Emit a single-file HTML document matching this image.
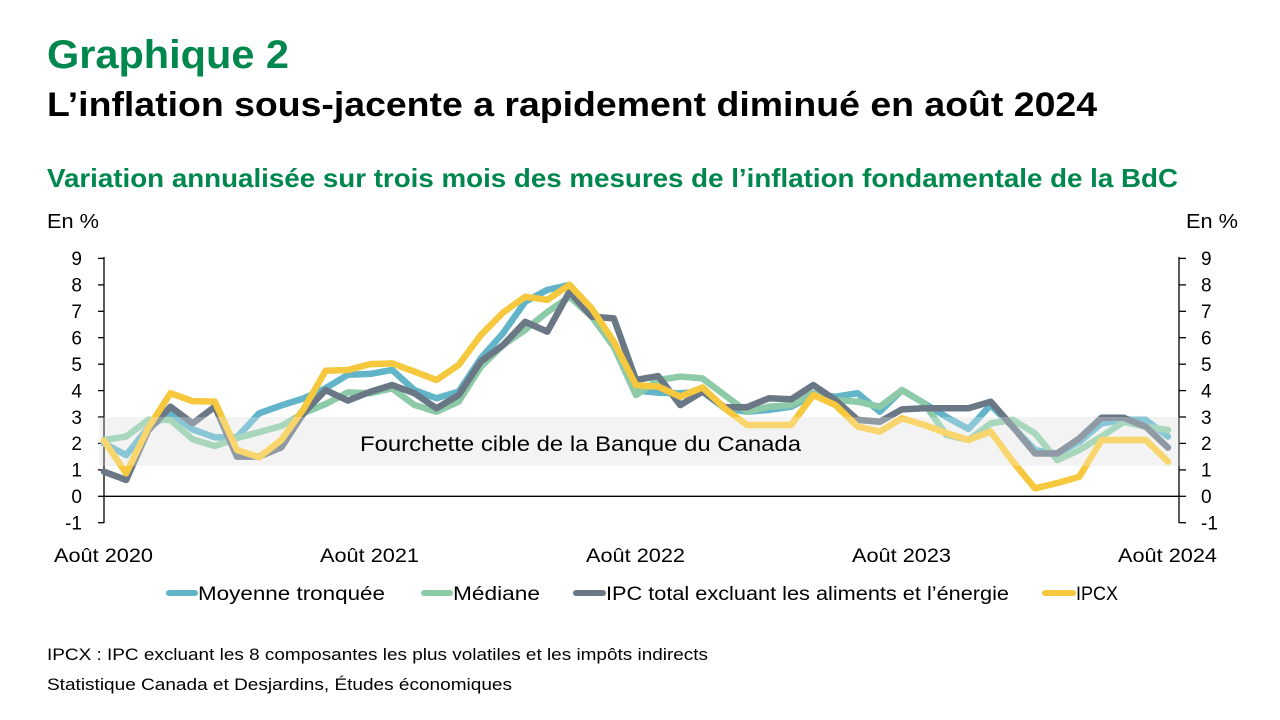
<!DOCTYPE html>
<html><head><meta charset="utf-8">
<style>
html,body{margin:0;padding:0;background:#fff;}
svg{display:block;}
text{font-family:"Liberation Sans",Arial,sans-serif;}
</style></head>
<body>
<svg width="1280" height="720" viewBox="0 0 1280 720" xmlns="http://www.w3.org/2000/svg">
<rect width="1280" height="720" fill="#fff"/>
<!-- titles -->
<text x="47" y="68" font-size="40" font-weight="bold" fill="#00874E" textLength="242" lengthAdjust="spacingAndGlyphs">Graphique 2</text>
<text x="47" y="116" font-size="34" font-weight="bold" fill="#000" textLength="1050" lengthAdjust="spacingAndGlyphs">L’inflation sous-jacente a rapidement diminué en août 2024</text>
<text x="47" y="187" font-size="26" font-weight="bold" fill="#00874E" textLength="1131" lengthAdjust="spacingAndGlyphs">Variation annualisée sur trois mois des mesures de l’inflation fondamentale de la BdC</text>
<text x="47" y="228" font-size="20" fill="#000" textLength="52" lengthAdjust="spacingAndGlyphs">En %</text>
<text x="1186" y="228" font-size="20" fill="#000" textLength="52" lengthAdjust="spacingAndGlyphs">En %</text>

<!-- band underlay -->
<rect x="99" y="417" width="1081" height="49" fill="#efefef"/>

<!-- axes -->
<g stroke="#000" stroke-width="1.3" fill="none">
<line x1="104" y1="257" x2="104" y2="523"/>
<line x1="1179" y1="257" x2="1179" y2="523"/>
<line x1="104" y1="496.3" x2="1179" y2="496.3"/>
<line x1="98" y1="258.4" x2="104" y2="258.4"/>
<line x1="98" y1="284.9" x2="104" y2="284.9"/>
<line x1="98" y1="311.3" x2="104" y2="311.3"/>
<line x1="98" y1="337.7" x2="104" y2="337.7"/>
<line x1="98" y1="364.2" x2="104" y2="364.2"/>
<line x1="98" y1="390.6" x2="104" y2="390.6"/>
<line x1="98" y1="417" x2="104" y2="417"/>
<line x1="98" y1="443.4" x2="104" y2="443.4"/>
<line x1="98" y1="469.9" x2="104" y2="469.9"/>
<line x1="98" y1="496.3" x2="104" y2="496.3"/>
<line x1="98" y1="522.7" x2="104" y2="522.7"/>
<line x1="1179" y1="258.4" x2="1186" y2="258.4"/>
<line x1="1179" y1="284.9" x2="1186" y2="284.9"/>
<line x1="1179" y1="311.3" x2="1186" y2="311.3"/>
<line x1="1179" y1="337.7" x2="1186" y2="337.7"/>
<line x1="1179" y1="364.2" x2="1186" y2="364.2"/>
<line x1="1179" y1="390.6" x2="1186" y2="390.6"/>
<line x1="1179" y1="417" x2="1186" y2="417"/>
<line x1="1179" y1="443.4" x2="1186" y2="443.4"/>
<line x1="1179" y1="469.9" x2="1186" y2="469.9"/>
<line x1="1179" y1="496.3" x2="1186" y2="496.3"/>
<line x1="1179" y1="522.7" x2="1186" y2="522.7"/>
</g>

<!-- tick labels -->
<g font-size="19" fill="#000" text-anchor="end">
<text x="82" y="265">9</text>
<text x="82" y="291.5">8</text>
<text x="82" y="318">7</text>
<text x="82" y="344.5">6</text>
<text x="82" y="371">5</text>
<text x="82" y="397.5">4</text>
<text x="82" y="424">3</text>
<text x="82" y="450">2</text>
<text x="82" y="476.5">1</text>
<text x="82" y="503">0</text>
<text x="82" y="529.5">-1</text>
</g>
<g font-size="19" fill="#000">
<text x="1201" y="265">9</text>
<text x="1201" y="291.5">8</text>
<text x="1201" y="318">7</text>
<text x="1201" y="344.5">6</text>
<text x="1201" y="371">5</text>
<text x="1201" y="397.5">4</text>
<text x="1201" y="424">3</text>
<text x="1201" y="450">2</text>
<text x="1201" y="476.5">1</text>
<text x="1201" y="503">0</text>
<text x="1201" y="529.5">-1</text>
</g>
<g font-size="19" fill="#000">
<text x="54" y="562" textLength="99" lengthAdjust="spacingAndGlyphs">Août 2020</text>
<text x="320" y="562" textLength="99" lengthAdjust="spacingAndGlyphs">Août 2021</text>
<text x="586" y="562" textLength="99" lengthAdjust="spacingAndGlyphs">Août 2022</text>
<text x="852" y="562" textLength="99" lengthAdjust="spacingAndGlyphs">Août 2023</text>
<text x="1118" y="562" textLength="99" lengthAdjust="spacingAndGlyphs">Août 2024</text>
</g>

<!-- series -->
<g transform="translate(104,496.3) scale(22.1667,-26.43)" fill="none" stroke-linejoin="round" stroke-linecap="round">
<polyline vector-effect="non-scaling-stroke" stroke="#62B4C8" stroke-width="6.5" points="0,2.0 1,1.56 2,2.6 3,3.14 4,2.53 5,2.23 6,2.23 7,3.14 8,3.44 9,3.7 10,4.09 11,4.6 12,4.63 13,4.78 14,4.02 15,3.71 16,3.96 17,5.22 18,6.17 19,7.36 20,7.81 21,8.0 22,7.05 23,5.66 24,4.0 25,3.92 26,3.9 27,3.96 28,3.33 29,3.2 30,3.27 31,3.39 32,3.83 33,3.77 34,3.9 35,3.2 36,4.02 37,3.52 38,3.0 39,2.55 40,3.45 41,2.63 42,1.75 43,1.62 44,2.06 45,2.76 46,2.89 47,2.89 48,2.26"/>
<polyline vector-effect="non-scaling-stroke" stroke="#8DCAA7" stroke-width="6.5" points="0,2.13 1,2.26 2,2.89 3,2.89 4,2.16 5,1.9 6,2.2 7,2.43 8,2.66 9,3.14 10,3.49 11,3.93 12,3.9 13,4.08 14,3.46 15,3.2 16,3.58 17,4.9 18,5.72 19,6.3 20,6.97 21,7.55 22,6.8 23,5.66 24,3.83 25,4.4 26,4.53 27,4.46 28,3.83 29,3.2 30,3.39 31,3.45 32,3.9 33,3.64 34,3.58 35,3.39 36,4.02 37,3.52 38,2.32 39,2.13 40,2.76 41,2.89 42,2.38 43,1.37 44,1.75 45,2.26 46,2.82 47,2.63 48,2.51"/>
<polyline vector-effect="non-scaling-stroke" stroke="#6A7886" stroke-width="6.5" points="0,0.93 1,0.62 2,2.5 3,3.39 4,2.76 5,3.39 6,1.5 7,1.5 8,1.85 9,3.14 10,4.02 11,3.62 12,3.95 13,4.21 14,3.9 15,3.33 16,3.83 17,5.1 18,5.72 19,6.6 20,6.23 21,7.74 22,6.8 23,6.73 24,4.4 25,4.55 26,3.45 27,3.96 28,3.37 29,3.37 30,3.71 31,3.67 32,4.21 33,3.64 34,2.89 35,2.82 36,3.29 37,3.33 38,3.33 39,3.33 40,3.58 41,2.63 42,1.62 43,1.62 44,2.19 45,2.97 46,2.97 47,2.63 48,1.84"/>
<polyline vector-effect="non-scaling-stroke" stroke="#F6C83D" stroke-width="6.5" points="0,2.1 1,0.87 2,2.6 3,3.9 4,3.6 5,3.58 6,1.75 7,1.48 8,2.13 9,3.3 10,4.75 11,4.78 12,5.0 13,5.03 14,4.72 15,4.4 16,4.97 17,6.1 18,6.95 19,7.55 20,7.43 21,8.0 22,7.11 23,5.85 24,4.2 25,4.15 26,3.77 27,4.12 28,3.33 29,2.7 30,2.7 31,2.7 32,3.83 33,3.45 34,2.64 35,2.45 36,2.95 37,2.7 38,2.39 39,2.13 40,2.45 41,1.31 42,0.3 43,0.5 44,0.74 45,2.13 46,2.13 47,2.13 48,1.31"/>
</g>

<!-- band overlay (washes lines inside) -->
<rect x="99" y="417" width="1081" height="49" fill="#ffffff" fill-opacity="0.25"/>
<text x="360" y="451" font-size="21" fill="#000" textLength="441" lengthAdjust="spacingAndGlyphs">Fourchette cible de la Banque du Canada</text>

<!-- legend -->
<g stroke-width="6" stroke-linecap="round">
<line x1="169" y1="593" x2="195" y2="593" stroke="#62B4C8"/>
<line x1="424" y1="593" x2="450" y2="593" stroke="#8DCAA7"/>
<line x1="576" y1="593" x2="603" y2="593" stroke="#6A7886"/>
<line x1="1045" y1="593" x2="1073" y2="593" stroke="#F6C83D"/>
</g>
<g font-size="19" fill="#000">
<text x="198" y="600" textLength="187" lengthAdjust="spacingAndGlyphs">Moyenne tronquée</text>
<text x="453" y="600" textLength="87" lengthAdjust="spacingAndGlyphs">Médiane</text>
<text x="606" y="600" textLength="403" lengthAdjust="spacingAndGlyphs">IPC total excluant les aliments et l’énergie</text>
<text x="1076" y="600" textLength="42" lengthAdjust="spacingAndGlyphs">IPCX</text>
</g>

<!-- footnotes -->
<text x="47" y="660" font-size="17" fill="#000" textLength="661" lengthAdjust="spacingAndGlyphs">IPCX : IPC excluant les 8 composantes les plus volatiles et les impôts indirects</text>
<text x="47" y="690" font-size="17" fill="#000" textLength="465" lengthAdjust="spacingAndGlyphs">Statistique Canada et Desjardins, Études économiques</text>
</svg>
</body></html>
